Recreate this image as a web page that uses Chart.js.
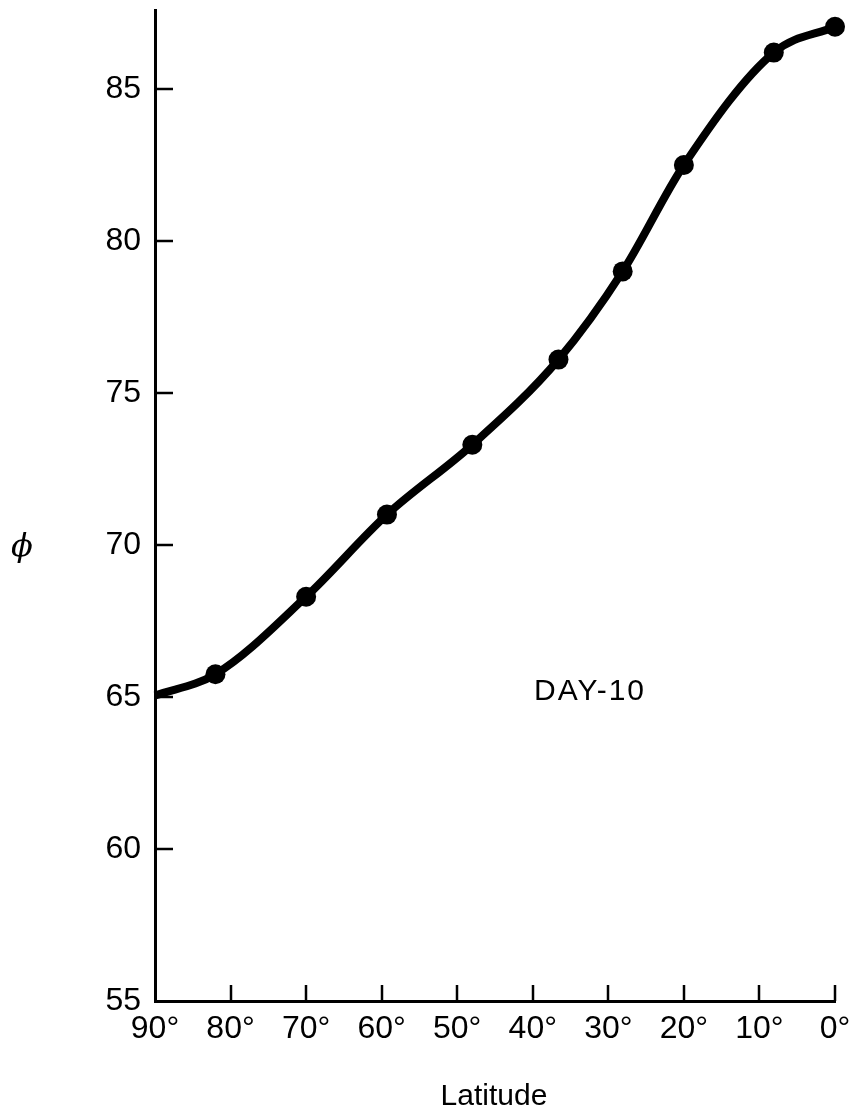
<!DOCTYPE html>
<html>
<head>
<meta charset="utf-8">
<script src="https://cdn.jsdelivr.net/npm/chart.js@4.4.1/dist/chart.umd.min.js"></script>
<style>
  html, body { margin: 0; padding: 0; background: #ffffff; }
  #wrap { width: 860px; height: 1119px; position: relative; }
</style>
</head>
<body>
<div id="wrap"><canvas id="c" width="860" height="1119"></canvas></div>
<script>
// Data
const curveStartLatitude = [90];
const curveStartPhi = [65.05];
const markerLatitudes = [82, 70, 59.3, 48, 36.6, 28.1, 20, 8.1, 0];
const markerPhi = [65.75, 68.3, 71.0, 73.3, 76.1, 79.0, 82.5, 86.2, 87.05];
const yTickValues = [55, 60, 65, 70, 75, 80, 85];
const xTickValues = [90, 80, 70, 60, 50, 40, 30, 20, 10, 0];
const xAxisTitle = 'Latitude';
const yAxisTitle = '\u03D5';
const annotationText = 'DAY-10';

const lineLats = curveStartLatitude.concat(markerLatitudes);
const linePhi = curveStartPhi.concat(markerPhi);
const linePoints = lineLats.map((x, i) => ({ x: x, y: linePhi[i] }));
const markerPoints = markerLatitudes.map((x, i) => ({ x: x, y: markerPhi[i] }));

const FONT = "'Liberation Sans', Arial, Helvetica, sans-serif";

const extras = {
  id: 'extras',
  afterDraw(chart) {
    const ctx = chart.ctx;
    const xs = chart.scales.x, ys = chart.scales.y;
    ctx.save();
    ctx.strokeStyle = '#000';
    ctx.lineWidth = 2.5;
    // inward y ticks
    yTickValues.forEach(v => {
      if (v === 55) return;
      const py = Math.round(ys.getPixelForValue(v));
      ctx.beginPath();
      ctx.moveTo(xs.left, py);
      ctx.lineTo(xs.left + 18, py);
      ctx.stroke();
    });
    // upward x ticks
    xTickValues.forEach(v => {
      if (v === 90) return;
      const px = Math.round(xs.getPixelForValue(v));
      ctx.beginPath();
      ctx.moveTo(px, ys.bottom);
      ctx.lineTo(px, ys.bottom - 16);
      ctx.stroke();
    });
    // titles and annotation
    ctx.fillStyle = '#000';
    ctx.textAlign = 'center';
    ctx.textBaseline = 'middle';
    ctx.font = '30px ' + FONT;
    ctx.fillText(xAxisTitle, 494, 1097);
    ctx.font = 'italic 32px "DejaVu Serif", "Liberation Serif", serif';
    ctx.fillText(yAxisTitle, 22, 548);
    ctx.font = '30px ' + FONT;
    if ('letterSpacing' in ctx) ctx.letterSpacing = '2px';
    ctx.fillText(annotationText, 590, 692);
    ctx.restore();
  }
};

new Chart(document.getElementById('c'), {
  type: 'scatter',
  data: {
    datasets: [
      {
        data: linePoints,
        showLine: true,
        borderColor: '#000',
        borderWidth: 8,
        pointRadius: 0,
        cubicInterpolationMode: 'monotone',
        fill: false,
        clip: false
      },
      {
        data: markerPoints,
        showLine: false,
        pointRadius: 10,
        pointBackgroundColor: '#000',
        pointBorderColor: '#000',
        pointBorderWidth: 0,
        clip: false
      }
    ]
  },
  options: {
    responsive: false,
    animation: false,
    devicePixelRatio: 1,
    layout: { padding: { left: 0, right: 25, top: 10, bottom: 0 } },
    plugins: { legend: { display: false }, tooltip: { enabled: false } },
    scales: {
      x: {
        type: 'linear',
        reverse: true,
        min: 0,
        max: 90,
        afterFit(s) { s.height = 118; s.paddingLeft = 0; s.paddingRight = 0; },
        afterBuildTicks(s) { s.ticks = xTickValues.map(v => ({ value: v })); },
        grid: { display: false },
        border: { display: true, color: '#000', width: 3 },
        ticks: {
          color: '#000',
          font: { family: FONT, size: 32 },
          padding: 1,
          maxRotation: 0,
          autoSkip: false,
          callback: v => v + '\u00B0'
        }
      },
      y: {
        type: 'linear',
        min: 55,
        max: 87.6,
        afterFit(s) { s.width = 155; s.paddingTop = 0; s.paddingBottom = 0; },
        afterBuildTicks(s) { s.ticks = yTickValues.map(v => ({ value: v })); },
        grid: { display: false },
        border: { display: true, color: '#000', width: 3 },
        ticks: {
          color: '#000',
          font: { family: FONT, size: 32 },
          padding: 6,
          autoSkip: false
        }
      }
    }
  },
  plugins: [extras]
});
</script>
</body>
</html>
